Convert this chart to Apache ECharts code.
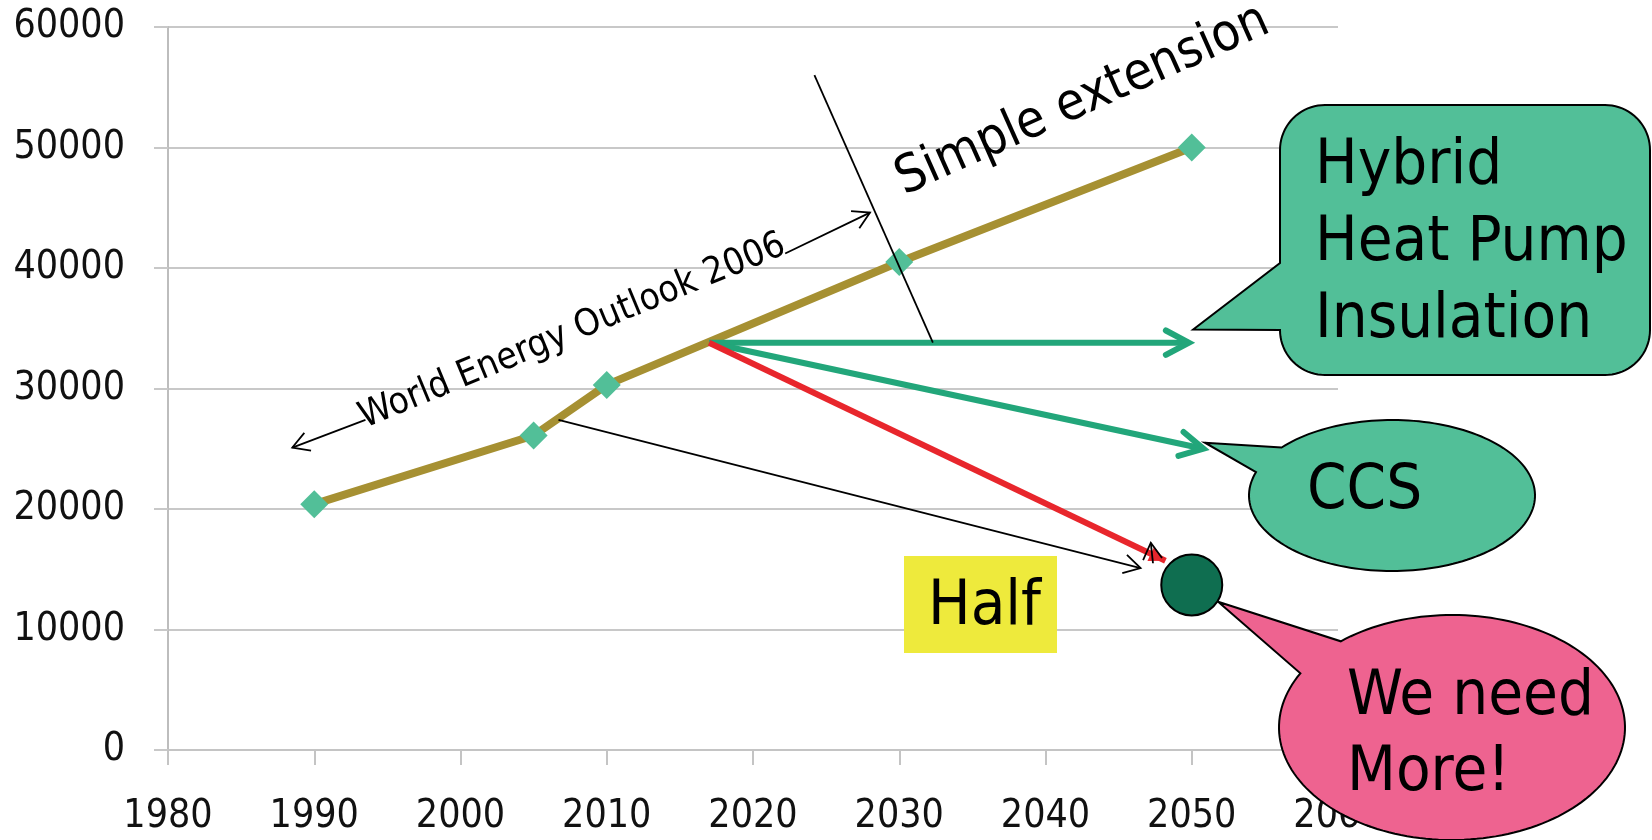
<!DOCTYPE html>
<html>
<head>
<meta charset="utf-8">
<title>Energy demand outlook</title>
<script src="https://cdn.jsdelivr.net/npm/echarts@6/dist/echarts.min.js"></script>
<style>
  html, body { margin: 0; padding: 0; background: #ffffff; }
  #chart { width: 1652px; height: 840px; }
</style>
</head>
<body>
<div id="chart"></div>
<script>
// Energy demand: history and World Energy Outlook 2006 projection
const years = [1990, 2005, 2010, 2030, 2050];
const demand = [20400, 26100, 30300, 40500, 50000];

// Point where the alternative paths leave the projection
const branchYear = 2017;
const branchValue = 33800;

// End points of the alternative paths around 2050
const pathNames = ['Hybrid / Heat Pump / Insulation', 'CCS', 'Half'];
const pathEndYears = [2049.8, 2050.8, 2048.2];
const pathEndValues = [33800, 25000, 15700];

// Level that is needed by 2050
const targetYear = 2050;
const targetValue = 13700;

// Thin annotation arrows, start and end in year / value terms
const noteFromYears = [1993.5, 2022.2, 2006.7, 2047.35, 2024.2];
const noteFromValues = [27400, 41200, 27400, 15500, 56000];
const noteToYears = [1988.5, 2028.0, 2046.5, 2047.2, 2032.3];
const noteToValues = [25100, 44600, 15100, 17200, 33800];
const noteHasHead = [true, true, true, true, false];

// Points the callout tails aim at
const calloutTipYears = [2050.1, 2050.9, 2051.8];
const calloutTipValues = [34900, 25500, 12300];

// Axis ranges
const xMin = 1980, xMax = 2060, xStep = 10;
const yMin = 0, yMax = 60000, yStep = 10000;

const FONT = '"DejaVu Sans Condensed", "DejaVu Sans", sans-serif';
const pathColors = ['#22a67a', '#22a67a', '#e8262c'];
const pathFilledHead = [false, false, true];

function arrowHead(a, b, len, deg) {
  const dx = b[0] - a[0], dy = b[1] - a[1];
  const d = Math.hypot(dx, dy) || 1;
  const ux = dx / d, uy = dy / d;
  const t = deg * Math.PI / 180, c = Math.cos(t), s = Math.sin(t);
  const l = [b[0] - len * (ux * c - uy * s), b[1] - len * (uy * c + ux * s)];
  const r = [b[0] - len * (ux * c + uy * s), b[1] - len * (uy * c - ux * s)];
  return [l, b, r];
}

const chart = echarts.init(document.getElementById('chart'), null, { renderer: 'canvas' });

const option = {
  animation: false,
  backgroundColor: '#ffffff',
  grid: { left: 168, right: 314, top: 27, bottom: 90, containLabel: false, outerBoundsMode: 'none' },
  xAxis: {
    type: 'value', min: xMin, max: xMax, interval: xStep,
    axisLine: { show: true, onZero: true, lineStyle: { color: '#c4c4c4', width: 2 } },
    axisTick: { show: true, length: 15, inside: false, lineStyle: { color: '#c4c4c4', width: 2 } },
    axisLabel: { margin: 47, color: '#111', fontSize: 39, fontFamily: FONT, formatter: v => String(v) },
    splitLine: { show: false }
  },
  yAxis: {
    type: 'value', min: yMin, max: yMax, interval: yStep,
    axisLine: { show: true, lineStyle: { color: '#bdbdbd', width: 2 } },
    axisTick: { show: true, length: 14, inside: false, lineStyle: { color: '#c8c8c8', width: 2 } },
    axisLabel: { margin: 43, color: '#111', fontSize: 39, fontFamily: FONT, formatter: v => String(v) },
    splitLine: { show: true, lineStyle: { color: '#c8c8c8', width: 2 } }
  },
  series: [
    {
      name: 'World Energy Outlook 2006',
      type: 'line',
      data: years.map((y, i) => [y, demand[i]]),
      symbol: 'diamond',
      symbolSize: 28,
      showSymbol: true,
      itemStyle: { color: '#52bf98', opacity: 1 },
      lineStyle: { color: '#a69032', width: 8 },
      z: 3
    },
    {
      name: 'Paths',
      type: 'custom',
      clip: false,
      z: 5,
      encode: { x: [0, 2], y: [1, 3] },
      data: pathEndYears.map((y, i) => [branchYear, branchValue, y, pathEndValues[i]]),
      renderItem: (params, api) => {
        const a = api.coord([api.value(0), api.value(1)]);
        const b = api.coord([api.value(2), api.value(3)]);
        const i = params.dataIndex;
        const color = pathColors[i];
        const kids = [{ type: 'line', shape: { x1: a[0], y1: a[1], x2: b[0], y2: b[1] },
                        style: { stroke: color, lineWidth: 6 } }];
        if (pathFilledHead[i]) {
          kids.push({ type: 'polygon', shape: { points: arrowHead(a, b, 18, 26) }, style: { fill: color } });
        } else {
          kids.push({ type: 'polyline', shape: { points: arrowHead(a, b, 26, 28) },
                      style: { stroke: color, lineWidth: 6, fill: null, lineJoin: 'miter', lineCap: 'round' } });
        }
        return { type: 'group', children: kids };
      }
    },
    {
      name: 'Notes',
      type: 'custom',
      clip: false,
      z: 6,
      encode: { x: [0, 2], y: [1, 3] },
      data: noteFromYears.map((y, i) => [y, noteFromValues[i], noteToYears[i], noteToValues[i]]),
      renderItem: (params, api) => {
        const a = api.coord([api.value(0), api.value(1)]);
        const b = api.coord([api.value(2), api.value(3)]);
        const kids = [{ type: 'line', shape: { x1: a[0], y1: a[1], x2: b[0], y2: b[1] },
                        style: { stroke: '#000', lineWidth: 1.8 } }];
        if (noteHasHead[params.dataIndex]) {
          kids.push({ type: 'polyline', shape: { points: arrowHead(a, b, 19, 30) },
                      style: { stroke: '#000', lineWidth: 1.8, fill: null } });
        }
        return { type: 'group', children: kids };
      }
    },
    {
      name: 'Target',
      type: 'scatter',
      data: [[targetYear, targetValue]],
      symbol: 'circle',
      symbolSize: 61,
      itemStyle: { color: '#0f6e50', borderColor: '#000', borderWidth: 2, opacity: 1 },
      z: 120
    }
  ]
};

chart.setOption(option);

// ---- callouts and free text ----
function label(text, x, baseline, size, rotDeg) {
  const t = (rotDeg || 0) * Math.PI / 180;
  const off = 0.346 * size;
  return {
    type: 'text', x: x - off * Math.sin(t), y: baseline - off * Math.cos(t), rotation: t, z: 110,
    style: { text, fill: '#000', font: size + 'px ' + FONT,
             textAlign: 'left', textVerticalAlign: 'middle', align: 'left', verticalAlign: 'middle' }
  };
}

function ellipseCallout(cx, cy, rx, ry, a1, a2, tip) {
  const pts = [];
  let end = a2;
  while (end <= a1) end += 360;
  const n = 160;
  for (let i = 0; i <= n; i++) {
    const t = (a1 + (end - a1) * i / n) * Math.PI / 180;
    pts.push([cx + rx * Math.cos(t), cy + ry * Math.sin(t)]);
  }
  pts.push(tip);
  return pts;
}

function roundRectCallout(x0, y0, x1, y1, r, baseTop, baseBottom, tip) {
  const pts = [[x0, baseTop]];
  const arc = (cx, cy, a0, a1) => {
    for (let i = 0; i <= 20; i++) {
      const t = (a0 + (a1 - a0) * i / 20) * Math.PI / 180;
      pts.push([cx + r * Math.cos(t), cy + r * Math.sin(t)]);
    }
  };
  arc(x0 + r, y0 + r, 180, 270);
  arc(x1 - r, y0 + r, 270, 360);
  arc(x1 - r, y1 - r, 0, 90);
  arc(x0 + r, y1 - r, 90, 180);
  pts.push([x0, baseBottom]);
  pts.push(tip);
  return pts;
}

const tips = calloutTipYears.map((y, i) => chart.convertToPixel({ seriesIndex: 0 }, [y, calloutTipValues[i]]));
const outline = { stroke: '#000', lineWidth: 2 };

const graphics = [
  // Hybrid / Heat Pump / Insulation
  { type: 'polygon', z: 100, shape: { points: roundRectCallout(1280, 105, 1650, 375, 45, 263, 330, tips[0]) },
    style: Object.assign({ fill: '#52bf98' }, outline) },
  label('Hybrid', 1315, 188, 63),
  label('Heat Pump', 1315, 265, 63),
  label('Insulation', 1315, 342, 63),
  // CCS
  { type: 'polygon', z: 100, shape: { points: ellipseCallout(1392, 495.5, 143, 75.5, 219.5, 198, tips[1]) },
    style: Object.assign({ fill: '#52bf98' }, outline) },
  label('CCS', 1307, 513, 63),
  // We need More!
  { type: 'polygon', z: 100, shape: { points: ellipseCallout(1452, 727.5, 173, 112.5, 230, 208.8, tips[2]) },
    style: Object.assign({ fill: '#ee6390' }, outline) },
  label('We need', 1347, 719, 63),
  label('More!', 1347, 795, 63),
  // Half
  { type: 'rect', z: 100, shape: { x: 904, y: 556, width: 153, height: 97 }, style: { fill: '#eeea3c' } },
  label('Half', 928, 629, 63),
  // Rotated notes
  label('World Energy Outlook 2006', 366, 431, 37, 22.5),
  label('Simple extension', 906, 199, 52, 24)
];

chart.setOption({ graphic: { elements: graphics } });
</script>
</body>
</html>
